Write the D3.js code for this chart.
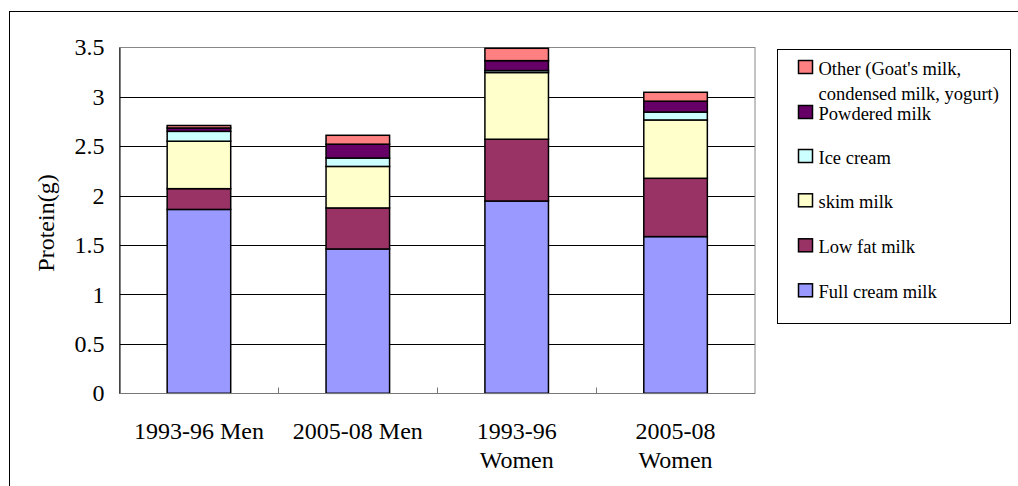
<!DOCTYPE html>
<html>
<head>
<meta charset="utf-8">
<script src="https://cdn.jsdelivr.net/npm/d3@7"></script>
<style>
  body { margin: 0; background: white; }
  text, tspan { font-family: "Liberation Serif", "Times New Roman", serif; fill: #000; }
</style>
</head>
<body>
<div id="viz"></div>
<script>
const categories = ["1993-96 Men", "2005-08 Men", "1993-96\nWomen", "2005-08\nWomen"];
const seriesNames = ["Full cream milk", "Low fat milk", "skim milk", "Ice cream", "Powdered milk", "Other (Goat's milk,\ncondensed milk, yogurt)"];
const fullCream = [1.86, 1.46, 1.945, 1.585];
const lowFat = [0.21, 0.415, 0.625, 0.59];
const skimMilk = [0.48, 0.42, 0.675, 0.59];
const iceCream = [0.10, 0.085, 0.02, 0.08];
const powdered = [0.034, 0.14, 0.10, 0.11];
const other = [0.025, 0.09, 0.125, 0.09];
const yTicks = [0, 0.5, 1, 1.5, 2, 2.5, 3, 3.5];
const colors = ["#9999ff", "#993366", "#ffffcc", "#ccffff", "#660066", "#ff8080"];

const width = 1018, height = 486;
const plot = { left: 119.5, right: 755, top: 47.3, bottom: 393.3 };

const svg = d3.select("#viz").append("svg")
    .attr("width", width)
    .attr("height", height);

// outer chart border (cut off at right/bottom)
svg.append("rect")
    .attr("x", 9.5).attr("y", 11.5)
    .attr("width", 1020).attr("height", 500)
    .attr("fill", "white").attr("stroke", "#000").attr("stroke-width", 1);

const x = d3.scaleBand()
    .domain(categories)
    .range([plot.left, plot.right]);

const y = d3.scaleLinear()
    .domain([0, 3.5])
    .range([plot.bottom, plot.top]);

// gridlines
svg.append("g")
    .selectAll("line")
    .data(yTicks.slice(1, -1))
    .enter().append("line")
    .attr("x1", plot.left).attr("x2", plot.right)
    .attr("y1", d => Math.round(y(d)) + 0.5)
    .attr("y2", d => Math.round(y(d)) + 0.5)
    .attr("stroke", "#000");

// plot area border
svg.append("rect")
    .attr("x", plot.left).attr("y", Math.round(plot.top) + 0.5)
    .attr("width", plot.right - plot.left)
    .attr("height", Math.round(plot.bottom) - Math.round(plot.top))
    .attr("fill", "none").attr("stroke", "#888");

// stacked bars
const rows = categories.map((c, i) => ({
    cat: c,
    s0: fullCream[i], s1: lowFat[i], s2: skimMilk[i],
    s3: iceCream[i], s4: powdered[i], s5: other[i]
}));
const stack = d3.stack().keys(["s0", "s1", "s2", "s3", "s4", "s5"])(rows);
const barW = x.bandwidth() * 0.4;

svg.append("g")
    .selectAll("g")
    .data(stack)
    .enter().append("g")
    .attr("fill", (d, i) => colors[i])
    .selectAll("rect")
    .data(d => d)
    .enter().append("rect")
    .attr("x", d => x(d.data.cat) + (x.bandwidth() - barW) / 2)
    .attr("y", d => y(d[1]))
    .attr("width", barW)
    .attr("height", d => y(d[0]) - y(d[1]))
    .attr("stroke", "#000")
    .attr("stroke-width", 1.5);

// y axis
svg.append("g")
    .attr("transform", `translate(${plot.left},0)`)
    .call(d3.axisLeft(y).tickValues(yTicks).tickSize(0).tickPadding(15).tickFormat(d3.format("")))
    .call(g => g.select(".domain").attr("stroke", "#000"))
    .call(g => g.selectAll("text")
        .style("font-family", "Liberation Serif")
        .style("font-size", "24px")
        .attr("fill", "#000"));

// x axis
svg.append("g")
    .attr("transform", `translate(0,${Math.round(plot.bottom) + 0.5})`)
    .call(g => g.append("line")
        .attr("x1", plot.left).attr("x2", plot.right)
        .attr("stroke", "#777"))
    .call(g => g.selectAll(".tick")
        .data(categories.slice(1))
        .enter().append("line")
        .attr("x1", d => Math.round(x(d)) + 0.5)
        .attr("x2", d => Math.round(x(d)) + 0.5)
        .attr("y1", 0).attr("y2", -6)
        .attr("stroke", "#777"));

// x labels
svg.append("g")
    .selectAll("text")
    .data(categories)
    .enter().append("text")
    .attr("text-anchor", "middle")
    .style("font-family", "Liberation Serif")
    .style("font-size", "24px")
    .each(function (d) {
        d3.select(this).selectAll("tspan")
            .data(d.split("\n"))
            .enter().append("tspan")
            .attr("x", x(d) + x.bandwidth() / 2)
            .attr("y", (l, i) => 438.5 + i * 29.5)
            .text(l => l);
    });

// y title
svg.append("text")
    .attr("transform", "translate(54,223) rotate(-90)")
    .attr("text-anchor", "middle")
    .style("font-family", "Liberation Serif")
    .style("font-size", "24px")
    .text("Protein(g)");

// legend
const legend = svg.append("g");
legend.append("rect")
    .attr("x", 777.5).attr("y", 49.5)
    .attr("width", 233).attr("height", 274)
    .attr("fill", "white").attr("stroke", "#000");

const legendBaselines = [298.3, 253.3, 208.3, 164, 120, 75];
const items = legend.selectAll(".item")
    .data(seriesNames)
    .enter().append("g")
    .attr("class", "item");

items.append("rect")
    .attr("x", 798.5)
    .attr("y", (d, i) => legendBaselines[i] - 14.5)
    .attr("width", 14).attr("height", 13)
    .attr("fill", (d, i) => colors[i])
    .attr("stroke", "#000").attr("stroke-width", 1.5);

items.append("text")
    .style("font-family", "Liberation Serif")
    .style("font-size", "18.5px")
    .each(function (d, i) {
        d3.select(this).selectAll("tspan")
            .data(d.split("\n"))
            .enter().append("tspan")
            .attr("x", 818.5)
            .attr("y", (l, j) => legendBaselines[i] + j * 25)
            .text(l => l);
    });
</script>
</body>
</html>
